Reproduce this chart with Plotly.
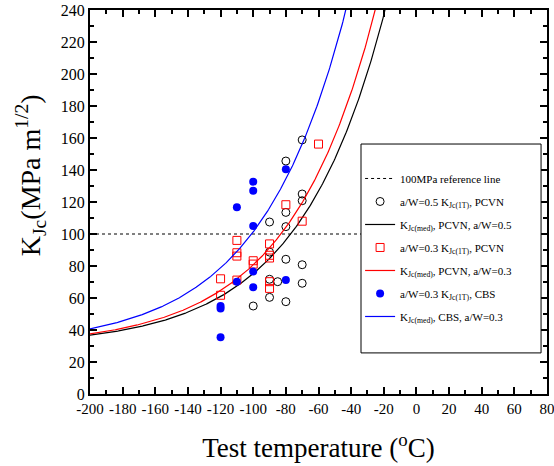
import numpy as np
import plotly.graph_objects as go

# ---- data ----
temp_pcvn05 = [-100, -90, -90, -90, -90, -85, -80, -80, -80, -80, -80, -70, -70, -70, -70, -70]
kjc_pcvn05 = [55, 107.5, 88.7, 71.7, 60.4, 70.2, 145.6, 113.5, 104.6, 84.2, 57.7, 158.8, 125, 120.8, 80.8, 69.2]

temp_pcvn03 = [-120, -120, -110, -110, -110, -110, -100, -100, -90, -90, -90, -90, -90, -80, -70, -60]
kjc_pcvn03 = [72, 61.7, 96, 88.3, 86.2, 71.2, 83.3, 81.2, 93.8, 86.7, 85, 70.2, 66, 118.3, 108, 156.2]

temp_cbs = [-120, -120, -120, -110, -110, -100, -100, -100, -100, -100, -80, -80]
kjc_cbs = [55, 53.5, 35.4, 116.7, 70.2, 132.7, 127, 105, 76.5, 66.7, 140.4, 71.2]

# master-curve reference temperatures T0 (deg C)
t0_pcvn05 = -77
t0_pcvn03 = -83
t0_cbs = -101

ref_level = 100
x_ticks = [-200, -180, -160, -140, -120, -100, -80, -60, -40, -20, 0, 20, 40, 60, 80]
x_ticklabels = ["-200", "-180", "-160", "-140", "-120", "-100", "-80", "-60", "-40", "-20", "0", "20", "40", "60", "80"]

T = np.linspace(-200, 80, 561)


def master(t0):
    return 30 + 70 * np.exp(0.019 * (T - t0))


SERIF = "Liberation Serif"

fig = go.Figure()
fig.add_trace(go.Scatter(x=[-200, 80], y=[ref_level, ref_level], mode="lines",
                         line=dict(color="black", width=1, dash="dot"),
                         name="100MPa reference line", legendgroup="g1"))
fig.add_trace(go.Scatter(x=temp_pcvn05, y=kjc_pcvn05, mode="markers",
                         marker=dict(symbol="circle-open", size=8, color="black", line=dict(width=1)),
                         name="a/W=0.5 K<sub>Jc(1T)</sub>, PCVN", legendgroup="g2"))
fig.add_trace(go.Scatter(x=T, y=master(t0_pcvn05), mode="lines",
                         line=dict(color="black", width=1.2),
                         name="K<sub>Jc(med)</sub>, PCVN, a/W=0.5", legendgroup="g3"))
fig.add_trace(go.Scatter(x=temp_pcvn03, y=kjc_pcvn03, mode="markers",
                         marker=dict(symbol="square-open", size=8, color="red", line=dict(width=1)),
                         name="a/W=0.3 K<sub>Jc(1T)</sub>, PCVN", legendgroup="g4"))
fig.add_trace(go.Scatter(x=T, y=master(t0_pcvn03), mode="lines",
                         line=dict(color="red", width=1.2),
                         name="K<sub>Jc(med)</sub>, PCVN, a/W=0.3", legendgroup="g5"))
fig.add_trace(go.Scatter(x=temp_cbs, y=kjc_cbs, mode="markers",
                         marker=dict(symbol="circle", size=8, color="blue"),
                         name="a/W=0.3 K<sub>Jc(1T)</sub>, CBS", legendgroup="g6"))
fig.add_trace(go.Scatter(x=T, y=master(t0_cbs), mode="lines",
                         line=dict(color="blue", width=1.2),
                         name="K<sub>Jc(med)</sub>, CBS, a/W=0.3", legendgroup="g7"))

axis_common = dict(showline=True, linecolor="black", linewidth=2, mirror="ticks",
                   ticks="inside", ticklen=7, tickwidth=1.5, tickcolor="black",
                   showgrid=False, zeroline=False, automargin=False,
                   ticklabeloverflow="allow")

fig.update_layout(
    width=554, height=466,
    margin=dict(l=90, r=7, t=10, b=72),
    paper_bgcolor="white", plot_bgcolor="white",
    font=dict(family=SERIF, color="black"),
    xaxis=dict(range=[-200, 80], tickvals=x_ticks, ticktext=x_ticklabels,
               tickfont=dict(size=15, family=SERIF),
               minor=dict(dtick=10, tick0=0, ticks="inside", ticklen=4, tickcolor="black", tickwidth=1.5),
               title=dict(text="Test temperature (<sup>o</sup>C)", font=dict(size=27, family=SERIF), standoff=22),
               **axis_common),
    yaxis=dict(range=[0, 240], dtick=20, tickfont=dict(size=16, family=SERIF),
               minor=dict(dtick=10, tick0=0, ticks="inside", ticklen=4, tickcolor="black", tickwidth=1.5),
               **axis_common),
    showlegend=True,
    legend=dict(x=0.591, y=0.599, xanchor="left", yanchor="top",
                bgcolor="rgba(0,0,0,0)", borderwidth=0,
                font=dict(size=11, family=SERIF, color="black"),
                tracegroupgap=4),
    shapes=[dict(type="rect", xref="paper", yref="paper", x0=0.593, x1=0.987, y0=0.107, y1=0.651,
                 line=dict(color="black", width=1), fillcolor="white", layer="above")],
    annotations=[dict(text="K<sub>Jc</sub>(MPa m<sup>1/2</sup>)", textangle=-90,
                      xref="paper", yref="paper", x=-0.131, y=0.570,
                      xanchor="center", yanchor="middle", showarrow=False,
                      font=dict(size=28, family=SERIF, color="black"))],
)

fig.write_html("out.html", config={"displayModeBar": False},
               post_script="document.body.style.margin='0';")
